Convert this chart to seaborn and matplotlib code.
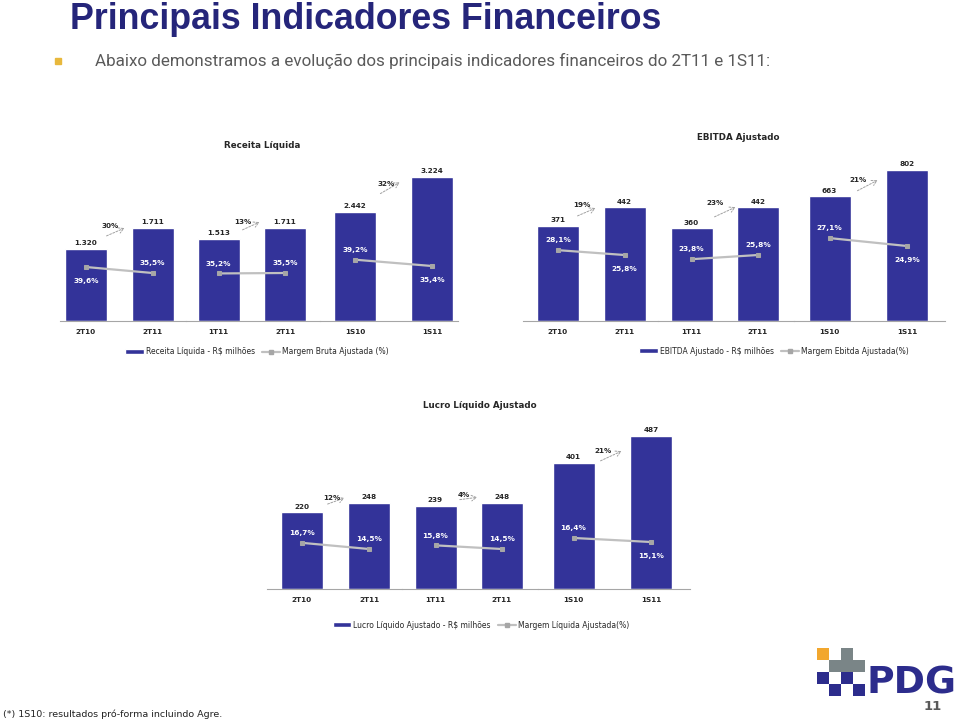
import matplotlib
matplotlib.use('Agg')
import matplotlib.pyplot as plt
import seaborn as sns
import pandas as pd
from matplotlib.patches import Rectangle, Patch
from matplotlib.lines import Line2D

sns.set_style('white')
plt.rcParams['font.family'] = ['DejaVu Sans']

# ---- data ----
periods = ['2T10', '2T11', '1T11', '2T11', '1S10', '1S11']

receita = [1320, 1711, 1513, 1711, 2442, 3224]
margem_bruta = [39.6, 35.5, 35.2, 35.5, 39.2, 35.4]
receita_growth = ['30%', '13%', '32%']

ebitda = [371, 442, 360, 442, 663, 802]
margem_ebitda = [28.1, 25.8, 23.8, 25.8, 27.1, 24.9]
ebitda_growth = ['19%', '23%', '21%']

lucro = [220, 248, 239, 248, 401, 487]
margem_liquida = [16.7, 14.5, 15.8, 14.5, 16.4, 15.1]
lucro_growth = ['12%', '4%', '21%']

W, H = 960, 722
NAVY = '#333399'
TITLE_BLUE = '#25257a'
LINE_GREY = '#c0c0c0'
MARK_GREY = '#a6a6a6'


def fmt_int(v):
    return f'{v:,}'.replace(',', '.')


def fmt_pct(m):
    return f'{m:.1f}%'.replace('.', ',')


# layout of the three charts (pixel positions on the slide)
charts = [
    dict(title='Receita Líquida', title_xy=(262, 146),
         values=receita, margins=margem_bruta, growth=receita_growth,
         bar_label='Receita Líquida - R$ milhões', line_label='Margem Bruta Ajustada (%)',
         centers=[86, 152.5, 218.5, 285, 355, 432], edges=[60, 185.5, 320, 458],
         y0=321, top=165, k=[0.0545, 0.0545, 0.0446],
         mmap=[(35.5, 273, 1.46), (35.5, 273, 1.46), (35.4, 266, 1.66)],
         below=[True, False, False, False, False, True],
         arrows=[(104, 237, 127, 227, 110, 226), (240, 231, 262, 221, 243, 222),
                 (378, 195, 402, 181, 386, 184)],
         legend_xy=(257, 352)),
    dict(title='EBITDA Ajustado', title_xy=(738, 137),
         values=ebitda, margins=margem_ebitda, growth=ebitda_growth,
         bar_label='EBITDA Ajustado - R$ milhões', line_label='Margem Ebitda Ajustada(%)',
         centers=[558, 624.5, 691.5, 758, 829.5, 907], edges=[523, 658, 794, 945],
         y0=321, top=160, k=[0.257, 0.257, 0.188],
         mmap=[(25.8, 255, 2.1), (25.8, 255, 2.1), (24.9, 246, 3.6)],
         below=[False, True, False, False, False, True],
         arrows=[(575, 217, 598, 207, 582, 205), (712, 218, 738, 206, 715, 203),
                 (855, 192, 880, 179, 858, 180)],
         legend_xy=(774, 351)),
    dict(title='Lucro Líquido Ajustado', title_xy=(480, 406),
         values=lucro, margins=margem_liquida, growth=lucro_growth,
         bar_label='Lucro Líquido Ajustado - R$ milhões', line_label='Margem Líquida Ajustada(%)',
         centers=[302, 369, 435.5, 502, 573.5, 651], edges=[267, 402, 538, 690],
         y0=589, top=430, k=[0.348, 0.348, 0.314],
         mmap=[(14.5, 549, 2.8), (14.5, 549, 2.8), (15.1, 542, 3.1)],
         below=[False, False, False, False, False, True],
         arrows=[(325, 505, 347, 497, 332, 498), (457, 500, 480, 497, 464, 495),
                 (598, 462, 624, 450, 603, 451)],
         legend_xy=(481, 625)),
]

fig = plt.figure(figsize=(W / 100, H / 100), dpi=100)


def draw_chart(c):
    y0, top = c['y0'], c['top']
    for g in range(3):
        idx = [2 * g, 2 * g + 1]
        c0, c1 = c['centers'][idx[0]], c['centers'][idx[1]]
        L, R = c['edges'][g], c['edges'][g + 1]
        sp = c1 - c0
        ax = fig.add_axes([L / W, 1 - y0 / H, (R - L) / W, (y0 - top) / H])
        df = pd.DataFrame({'periodo': [periods[i] for i in idx],
                           'valor': [c['values'][i] for i in idx]})
        sns.barplot(data=df, x='periodo', y='valor', color=NAVY, saturation=1,
                    width=42 / sp, ax=ax)
        ax.set_ylim(0, (y0 - top) / c['k'][g])
        ax.set_xlabel('')
        ax.set_ylabel('')
        ax.set_yticks([])
        for s in ['left', 'top', 'right']:
            ax.spines[s].set_visible(False)
        ax.spines['bottom'].set_color('#a6a6a6')
        ax.spines['bottom'].set_linewidth(0.8)
        ax.set_xticks([0, 1])
        ax.set_xticklabels(df['periodo'], fontsize=5.2, fontweight='bold')
        ax.tick_params(axis='x', which='major', length=0, pad=6)
        ax.set_xticks([-0.5, 0.5, 1.5], minor=True)
        ax.tick_params(axis='x', which='minor', length=3, color='#a6a6a6', width=0.6)
        ax.patch.set_alpha(0)

        for j, i in enumerate(idx):
            ax.annotate(fmt_int(c['values'][i]), (j, c['values'][i]), xytext=(0, 2),
                        textcoords='offset points', ha='center', va='bottom',
                        fontsize=5.2, fontweight='bold')

        # margin line on its own scale
        tw = ax.twinx()
        mref, pref, s = c['mmap'][g]
        tw.set_ylim(mref - (y0 - pref) / s, mref + (pref - top) / s)
        mvals = [c['margins'][i] for i in idx]
        sns.lineplot(x=[0, 1], y=mvals, ax=tw, color=LINE_GREY, linewidth=1.6,
                     marker='s', markersize=3.5, markerfacecolor=MARK_GREY,
                     markeredgecolor=MARK_GREY)
        tw.set_axis_off()
        for j, i in enumerate(idx):
            off = -10 if c['below'][i] else 7
            tw.annotate(fmt_pct(c['margins'][i]), (j, c['margins'][i]), xytext=(0, off),
                        textcoords='offset points', ha='center', va='center',
                        color='white', fontsize=5.3, fontweight='bold')
        ax.set_xlim((L - c0) / sp, (R - c0) / sp)

        # growth arrow
        x0, ya, x1, yb, tx, ty = c['arrows'][g]
        ax.annotate('', xy=(x1, H - yb), xycoords='figure pixels',
                    xytext=(x0, H - ya), textcoords='figure pixels',
                    arrowprops=dict(arrowstyle='->,head_length=0.35,head_width=0.2',
                                    color='#a0a0a0', lw=0.7, linestyle=(0, (2, 1.5))))
        fig.text(tx / W, 1 - ty / H, c['growth'][g], ha='center', va='center',
                 fontsize=5.2, fontweight='bold')

    fig.text(c['title_xy'][0] / W, 1 - c['title_xy'][1] / H, c['title'],
             ha='center', va='center', fontsize=6.3, fontweight='bold')
    handles = [Patch(facecolor=NAVY, label=c['bar_label']),
               Line2D([0], [0], color=LINE_GREY, lw=1.6, marker='s', markersize=3.5,
                      markerfacecolor=MARK_GREY, markeredgecolor=MARK_GREY,
                      label=c['line_label'])]
    fig.legend(handles=handles, loc='center',
               bbox_to_anchor=(c['legend_xy'][0] / W, 1 - c['legend_xy'][1] / H),
               ncol=2, frameon=False, fontsize=5.5, handlelength=2.4,
               handleheight=0.6, handletextpad=0.25, columnspacing=0.9)


for c in charts:
    draw_chart(c)


def fit_width(t, target_px):
    r = fig.canvas.get_renderer()
    w = t.get_window_extent(r).width
    t.set_fontsize(t.get_fontsize() * target_px / w)


# slide header
title = fig.text(70 / W, 1 - 29 / H, 'Principais Indicadores Financeiros',
                 ha='left', va='baseline', fontsize=24, fontweight='bold',
                 color=TITLE_BLUE, family='Liberation Sans')
fit_width(title, 595)
subtitle = fig.text(95 / W, 1 - 61 / H,
                    'Abaixo demonstramos a evolução dos principais indicadores financeiros do 2T11 e 1S11:',
                    ha='left', va='center', fontsize=11, color='#5a5a5a', family='Roboto')
fit_width(subtitle, 675)
fig.add_artist(Rectangle((55 / W, 1 - 64 / H), 6 / W, 6 / H,
                         transform=fig.transFigure, color='#e8b83c'))

# footnote
foot = fig.text(3 / W, 1 - 714 / H, '(*) 1S10: resultados pró-forma incluindo Agre.',
                ha='left', va='center', fontsize=8, color='#222222')
fit_width(foot, 220)

# PDG logo
squares = [(817, 648, '#f2a72e'), (841, 648, '#7a8587'),
           (829, 660, '#7a8587'), (841, 660, '#7a8587'), (853, 660, '#7a8587'),
           (817, 672, '#2c2c8c'), (841, 672, '#2c2c8c'),
           (829, 684, '#2c2c8c'), (853, 684, '#2c2c8c')]
for sx, sy, col in squares:
    fig.add_artist(Rectangle((sx / W, 1 - (sy + 12) / H), 12 / W, 12 / H,
                             transform=fig.transFigure, color=col, lw=0))
pdg = fig.text(866 / W, 1 - 693 / H, 'PDG', ha='left', va='baseline',
               fontsize=28, fontweight='bold', color='#2c2c8c')
fit_width(pdg, 90)
fig.text(933 / W, 1 - 706 / H, '11', ha='center', va='center', fontsize=9.5,
         fontweight='bold', color='#595959')

fig.savefig('out.png', dpi=100)
